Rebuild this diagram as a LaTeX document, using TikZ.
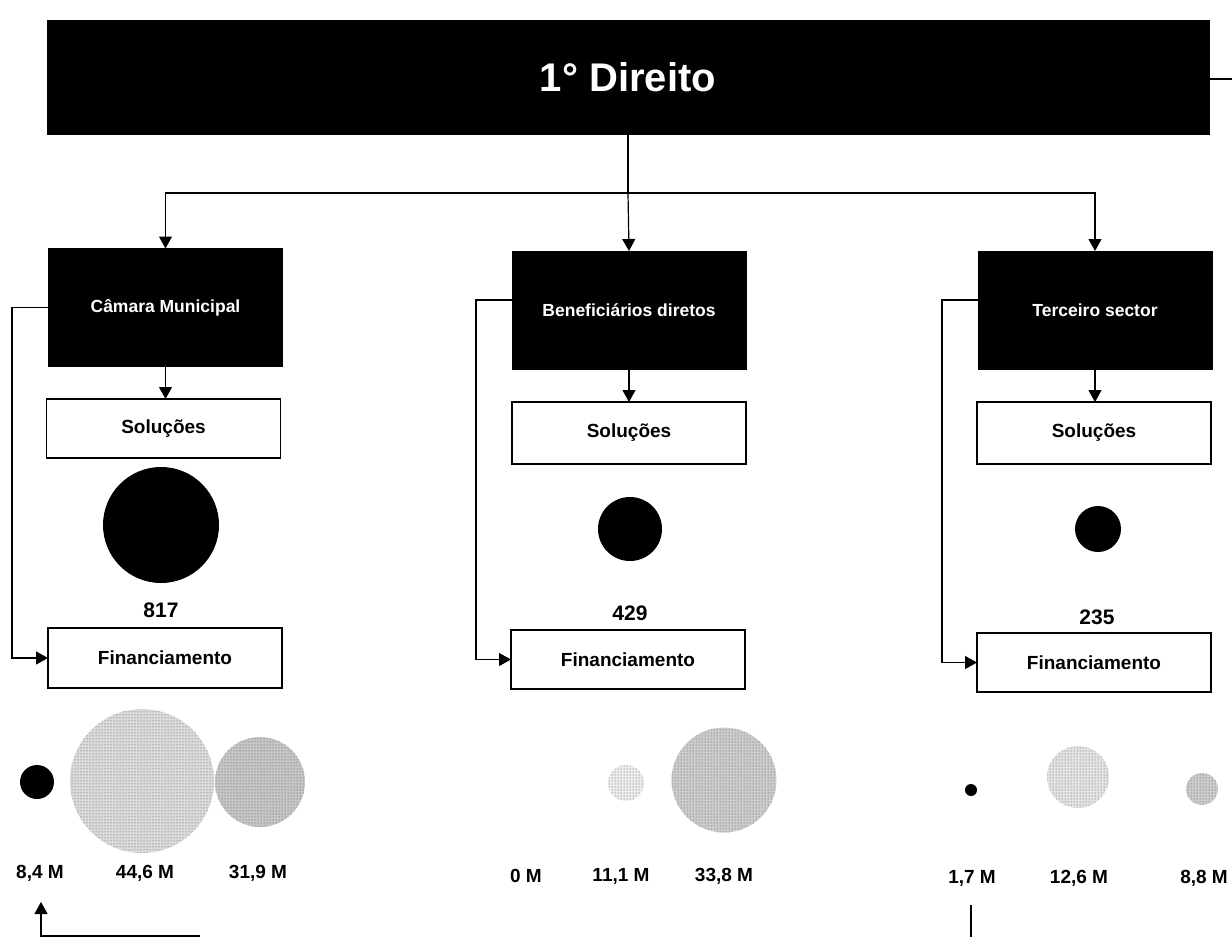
\documentclass[tikz,border=0pt]{standalone}
\usepackage{fontspec}
\setmainfont{Liberation Sans}
\usetikzlibrary{arrows.meta,patterns}
\begin{document}
\begin{tikzpicture}[x=1pt,y=-1pt,
  arr/.style={line width=1.2pt,-{Triangle[width=13pt,length=12pt]}},
  conn/.style={line width=1.2pt},
  blackbox/.style={draw=black,fill=black,text=white,inner sep=0pt,outer sep=0pt,
    minimum width=234pt,minimum height=118pt,font=\fontsize{17.5}{20}\selectfont\bfseries},
  whitebox/.style={draw=black,line width=1.8pt,fill=white,inner sep=0pt,outer sep=0pt,
    minimum width=234pt,minimum height=60pt,font=\fontsize{19}{22}\selectfont\bfseries},
  num/.style={inner sep=1pt,font=\fontsize{21}{24}\selectfont\bfseries},
  lab/.style={inner sep=1pt,font=\fontsize{19}{22}\selectfont\bfseries},
  dot/.style={circle,fill=black,inner sep=0pt,outer sep=0pt},
  stip/.style={circle,inner sep=0pt,outer sep=0pt,fill=gray!#1,
    postaction={pattern=dots,pattern color=black!70}},
]
\useasboundingbox (0,0) rectangle (1232,937);

% title
\node[fill=black,text=white,inner sep=0pt,outer sep=0pt,minimum width=1163pt,
  minimum height=115pt,font=\fontsize{40}{42}\selectfont\bfseries] (title) at (628,77) {1° Direito};
\coordinate (rt) at (1232,79);
\draw[conn] (title.east |- rt) -- (rt);

% level boxes
\node[blackbox] (cam) at (165.5,307.5) {Câmara Municipal};
\node[blackbox] (ben) at (629,310) {Beneficiários diretos};
\node[blackbox] (ter) at (1095,310) {Terceiro sector};

\coordinate (hub) at (628,193);
\draw[conn] (title.south) -- (hub);
\draw[arr] (hub) -| (cam.north);
\draw[arr] (hub) -- (ben.north);
\draw[arr] (hub) -| (ter.north);

% Soluções boxes
\node[whitebox,minimum height=59pt] (cs) at (163.5,428.5) {Soluções};
\node[whitebox,minimum height=62pt] (bs) at (629,433) {Soluções};
\node[whitebox,minimum height=62pt] (ts) at (1094,433) {Soluções};
\draw[arr] (cam.south) -- (cam.south |- cs.north);
\draw[arr] (ben.south) -- (ben.south |- bs.north);
\draw[arr] (ter.south) -- (ter.south |- ts.north);

% top circles
\node[dot,minimum size=116pt] (cc) at (161,525) {};
\node[dot,minimum size=64pt] (bc) at (630,529) {};
\node[dot,minimum size=46pt] (tc) at (1098,529) {};

\node[num] (n1) at (161,610) {817};
\node[num] (n2) at (630,613) {429};
\node[num] (n3) at (1097,617) {235};

% Financiamento boxes
\node[whitebox] (cf) at (165,658) {Financiamento};
\node[whitebox,minimum height=59pt] (bf) at (628,659.5) {Financiamento};
\node[whitebox,minimum height=59pt] (tf) at (1094,662.5) {Financiamento};

\coordinate (cl) at (12,307.5);
\coordinate (bl) at (476,300);
\coordinate (tl) at (942,300);
\draw[arr] (cam.west) -- (cl) |- (cf.west);
\draw[arr] (bl -| ben.west) -- (bl) |- (bf.west);
\draw[arr] (tl -| ter.west) -- (tl) |- (tf.west);

% bottom circles - Câmara
\node[dot,minimum size=34pt] (c1) at (37,782) {};
\node[stip=28,minimum size=144pt] (c2) at (142,781) {};
\node[stip=45,minimum size=90pt] (c3) at (260,782) {};
\node[lab] (l1) at (40,873) {8,4 M};
\node[lab] (l2) at (145,873) {44,6 M};
\node[lab] (l3) at (258,873) {31,9 M};

% bottom circles - Beneficiários
\node[stip=15,minimum size=36pt] (b2) at (626,783) {};
\node[stip=40,minimum size=105pt] (b3) at (724,780) {};
\node[lab] (m1) at (526,876) {0 M};
\node[lab] (m2) at (621,876) {11,1 M};
\node[lab] (m3) at (724,876) {33,8 M};

% bottom circles - Terceiro
\node[dot,minimum size=12pt] (t1) at (971,790) {};
\node[stip=22,minimum size=62pt] (t2) at (1078,777) {};
\node[stip=40,minimum size=32pt] (t3) at (1202,789) {};
\node[lab] (k1) at (972,878) {1,7 M};
\node[lab] (k2) at (1079,878) {12,6 M};
\node[lab] (k3) at (1204,878) {8,8 M};

% cut-off connectors at the bottom
\coordinate (ba) at (200,936);
\coordinate (bb) at (41,936);
\coordinate (bt) at (41,902);
\draw[arr] (ba) -- (bb) -- (bt);
\coordinate (ta) at (971,905);
\coordinate (tb) at (971,937);
\draw[conn] (ta) -- (tb);
\end{tikzpicture}
\end{document}
